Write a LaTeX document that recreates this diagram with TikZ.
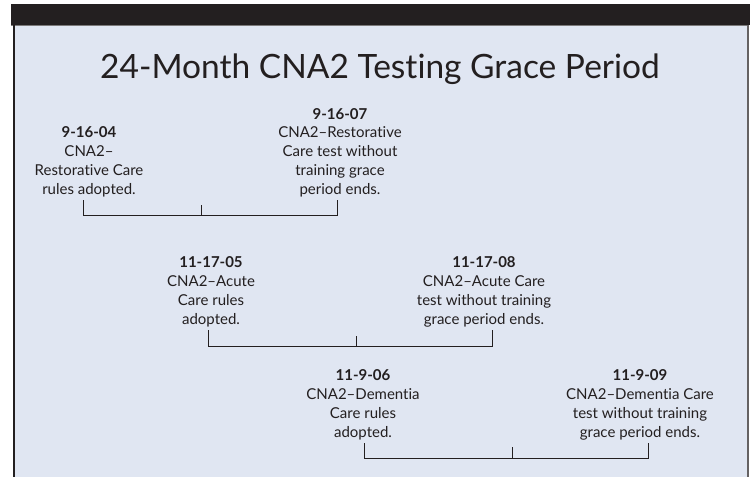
\documentclass[tikz,border=0pt]{standalone}
\usepackage{fontspec}
\setmainfont{Lato}[Ligatures=NoCommon]
\definecolor{ink}{HTML}{231F20}
\definecolor{panel}{HTML}{E0E6F2}
\tikzset{
  lbl/.style={inner sep=0pt, align=center, text=ink, font=\fontsize{15}{18.8}\selectfont, anchor=south},
  bracket/.style={draw=ink, line width=1pt},
}
\begin{document}
\begin{tikzpicture}[x=1pt,y=-1pt]
\useasboundingbox (0,0) rectangle (750,477);
\fill[white] (0,0) rectangle (750,477);
\fill[panel] (14,25) rectangle (748,477);
\fill[ink] (11,4) rectangle (750,25);
\draw[ink!60, line width=1pt] (11,25.5) -- (748,25.5);
\draw[ink, line width=1.6pt] (14,25) -- (14,477);
\draw[ink!70, line width=1.4pt] (748,25) -- (748,477);
\node[text=ink, font=\fontsize{33.5}{36}\selectfont, anchor=base, inner sep=0pt] (title) at (380,78) {24-Month CNA2 Testing Grace Period};
% group 1
\node[lbl] (g1l) at (89,197) {\textbf{9-16-04}\\CNA2–\\Restorative Care\\rules adopted.};
\node[lbl] (g1r) at (340,197) {\textbf{9-16-07}\\CNA2–Restorative\\Care test without\\training grace\\period ends.};
% group 2
\node[lbl] (g2l) at (211,327) {\textbf{11-17-05}\\CNA2–Acute\\Care rules\\adopted.};
\node[lbl] (g2r) at (484,327) {\textbf{11-17-08}\\CNA2–Acute Care\\test without training\\grace period ends.};
% group 3
\node[lbl] (g3l) at (363,440) {\textbf{11-9-06}\\CNA2–Dementia\\Care rules\\adopted.};
\node[lbl] (g3r) at (640,440) {\textbf{11-9-09}\\CNA2–Dementia Care\\test without training\\grace period ends.};
% bracket coordinates
\coordinate (a1) at (83,200); \coordinate (b1) at (337,200); \coordinate (t1) at (201,205); \coordinate (m1) at (201,215);
\coordinate (a2) at (208,330); \coordinate (b2) at (492,330); \coordinate (t2) at (356,336); \coordinate (m2) at (356,346);
\coordinate (a3) at (364,443); \coordinate (b3) at (648,443); \coordinate (t3) at (512,447); \coordinate (m3) at (512,458);
\draw[bracket] (a1) -- (a1 |- m1) -- (b1 |- m1) -- (b1);
\draw[bracket] (t1) -- (m1);
\draw[bracket] (a2) -- (a2 |- m2) -- (b2 |- m2) -- (b2);
\draw[bracket] (t2) -- (m2);
\draw[bracket] (a3) -- (a3 |- m3) -- (b3 |- m3) -- (b3);
\draw[bracket] (t3) -- (m3);
\end{tikzpicture}
\end{document}
